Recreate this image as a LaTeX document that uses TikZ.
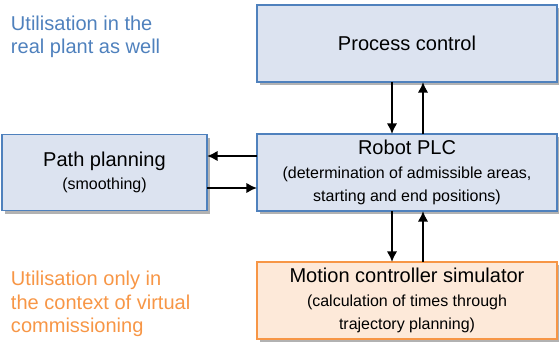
\documentclass[tikz,border=0pt]{standalone}
\usepackage{fontspec}
\setmainfont{Liberation Sans}
\usetikzlibrary{arrows.meta,shadows}
\definecolor{boxblue}{RGB}{220,227,240}
\definecolor{lineblue}{RGB}{79,129,189}
\definecolor{boxorange}{RGB}{253,233,217}
\definecolor{lineorange}{RGB}{247,150,70}
\newcommand{\mainsize}{\fontsize{11.4}{13.4}\selectfont}
\newcommand{\subsize}{\fontsize{9.1}{11}\selectfont}
\begin{document}
\begin{tikzpicture}[inner sep=0pt,outer sep=0pt,line width=1.1pt,>={Latex[length=6pt,width=6pt]},
sysblock/.style={draw=lineblue,fill=boxblue,rectangle,minimum width=6cm,minimum height=1.54cm,align=center,font=\mainsize,
  drop shadow={shadow xshift=1.8pt,shadow yshift=-1.8pt,fill=black!60,opacity=.5}},
simblock/.style={sysblock,draw=lineorange,fill=boxorange},
note/.style={anchor=north west,align=left,font=\mainsize}]
\useasboundingbox (0,0) rectangle (11.18,6.88);
\draw (8.14,6.01) node[sysblock] (PC) {Process control};
\draw (8.14,3.43) node[sysblock] (PLC) {Robot PLC\\\subsize (determination of admissible areas,\\\subsize starting and end positions)};
\draw (2.09,3.43) node[sysblock,minimum width=4.1cm,minimum height=1.52cm] (PP) {Path planning\\\subsize (smoothing)};
\draw (8.14,0.87) node[simblock] (MC) {Motion controller simulator\\\subsize (calculation of times through\\\subsize trajectory planning)};
\draw (0.22,6.57) node[note,text=lineblue] (real) {Utilisation in the\\real plant as well};
\draw (0.22,1.46) node[note,text=lineorange] (virt) {Utilisation only in\\the context of virtual\\commissioning};
\draw[->,line width=1.3pt] ([xshift=-0.3cm]PC.south) -- ([xshift=-0.3cm]PLC.north);
\draw[->,line width=1.3pt] ([xshift=0.32cm]PLC.north) -- ([xshift=0.32cm]PC.south);
\draw[->,line width=1.3pt] ([xshift=-0.3cm]PLC.south) -- ([xshift=-0.3cm]MC.north);
\draw[->,line width=1.3pt] ([xshift=0.32cm]MC.north) -- ([xshift=0.32cm]PLC.south);
\draw[->,line width=1.3pt] ([yshift=0.33cm]PLC.west) -- ([yshift=0.33cm]PP.east);
\draw[->,line width=1.3pt] ([yshift=-0.31cm]PP.east) -- ([yshift=-0.31cm]PLC.west);
\end{tikzpicture}
\end{document}
